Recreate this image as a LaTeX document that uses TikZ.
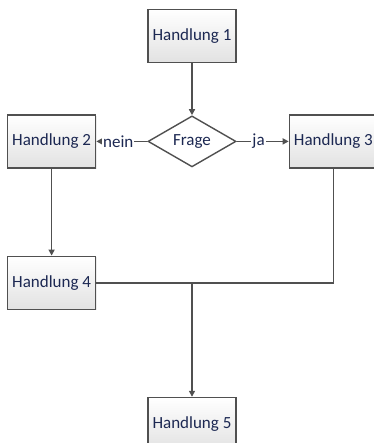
\documentclass[tikz,border=0pt]{standalone}
\usepackage{fontspec}
\setmainfont{Carlito}
\usepackage{xcolor}
\usepackage{tikz}
\usetikzlibrary{arrows.meta, positioning, shapes.geometric, shadows}

\definecolor{linegray}{RGB}{80,80,80}
\definecolor{boxtext}{RGB}{28,40,82}
\definecolor{boxbottom}{RGB}{226,226,226}

\begin{document}
\begin{tikzpicture}[
        x=1pt, y=1pt,
        node distance=51pt and 51pt,
        every node/.style={font=\fontsize{17}{20}\selectfont, text=boxtext},
        act/.style={rectangle, draw=linegray, line width=1.4pt, top color=white, bottom color=boxbottom,
                    drop shadow={opacity=0.15, shadow xshift=1pt, shadow yshift=-1pt},
                    minimum width=88pt, minimum height=53pt, align=center},
        dec/.style={diamond, draw=linegray, line width=1.4pt, fill=white, aspect=1.7,
                    minimum width=88pt, minimum height=51pt, inner sep=0pt},
        lbl/.style={fill=white, inner sep=1pt},
        flow/.style={draw=linegray, line width=1.4pt},
        >={Triangle[length=6pt, width=6pt]}
    ]
        \useasboundingbox (-192,36) rectangle (181,-407);

        \node[act] (h1) at (0,0) {Handlung 1};
        \node[dec, below=52pt of h1] (frage) {Frage};
        \node[act, left=51pt of frage] (h2) {Handlung 2};
        \node[act, right=52pt of frage] (h3) {Handlung 3};
        \node[act, below=87pt of h2] (h4) {Handlung 4};

        \coordinate (join) at (h4 -| frage);
        \node[act, below=114pt of join] (h5) {Handlung 5};

        \draw[->, flow] (h1) -- (frage);
        \draw[->, flow] (frage) -- node[lbl, pos=0.57]{nein} (h2);
        \draw[->, flow] (frage) -- node[lbl, pos=0.42]{ja} (h3);
        \draw[->, flow] (h2) -- (h4);

        \draw[flow] (h3.south) |- (h4.east);
        \draw[->, flow] (join) -- (h5);

    \end{tikzpicture}
\end{document}
